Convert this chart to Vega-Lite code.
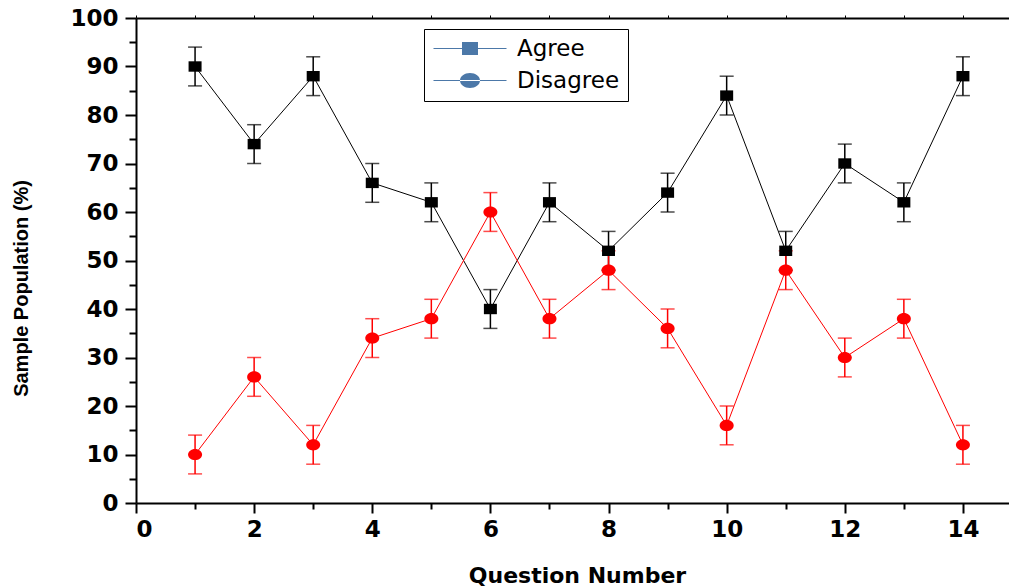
{
  "$schema": "https://vega.github.io/schema/vega-lite/v6.json",
  "autosize": {"type": "none"},
  "padding": {"left": 136, "top": 18, "right": 0, "bottom": 83},
  "width": 873,
  "height": 485,
  "background": "white",
  "config": {
    "view": {"stroke": null},
    "axis": {
      "grid": false,
      "domainColor": "black",
      "domainWidth": 2,
      "tickColor": "black",
      "tickWidth": 2,
      "labelFont": "DejaVu Sans",
      "labelFontWeight": "bold",
      "labelFontSize": 23,
      "labelColor": "black",
      "titleColor": "black"
    }
  },
  "data": {
    "values": [
      {"q": 1, "series": "Agree", "value": 90, "err": 4},
      {"q": 2, "series": "Agree", "value": 74, "err": 4},
      {"q": 3, "series": "Agree", "value": 88, "err": 4},
      {"q": 4, "series": "Agree", "value": 66, "err": 4},
      {"q": 5, "series": "Agree", "value": 62, "err": 4},
      {"q": 6, "series": "Agree", "value": 40, "err": 4},
      {"q": 7, "series": "Agree", "value": 62, "err": 4},
      {"q": 8, "series": "Agree", "value": 52, "err": 4},
      {"q": 9, "series": "Agree", "value": 64, "err": 4},
      {"q": 10, "series": "Agree", "value": 84, "err": 4},
      {"q": 11, "series": "Agree", "value": 52, "err": 4},
      {"q": 12, "series": "Agree", "value": 70, "err": 4},
      {"q": 13, "series": "Agree", "value": 62, "err": 4},
      {"q": 14, "series": "Agree", "value": 88, "err": 4},
      {"q": 1, "series": "Disagree", "value": 10, "err": 4},
      {"q": 2, "series": "Disagree", "value": 26, "err": 4},
      {"q": 3, "series": "Disagree", "value": 12, "err": 4},
      {"q": 4, "series": "Disagree", "value": 34, "err": 4},
      {"q": 5, "series": "Disagree", "value": 38, "err": 4},
      {"q": 6, "series": "Disagree", "value": 60, "err": 4},
      {"q": 7, "series": "Disagree", "value": 38, "err": 4},
      {"q": 8, "series": "Disagree", "value": 48, "err": 4},
      {"q": 9, "series": "Disagree", "value": 36, "err": 4},
      {"q": 10, "series": "Disagree", "value": 16, "err": 4},
      {"q": 11, "series": "Disagree", "value": 48, "err": 4},
      {"q": 12, "series": "Disagree", "value": 30, "err": 4},
      {"q": 13, "series": "Disagree", "value": 38, "err": 4},
      {"q": 14, "series": "Disagree", "value": 12, "err": 4}
    ]
  },
  "layer": [
    {
      "mark": {"type": "line", "strokeWidth": 1},
      "encoding": {
        "x": {
          "field": "q", "type": "quantitative",
          "scale": {"domain": [0, 14.78], "nice": false, "zero": false},
          "axis": {
            "orient": "bottom",
            "values": [0, 2, 4, 6, 8, 10, 12, 14],
            "tickSize": 10,
            "labelPadding": 5,
            "title": "Question Number",
            "titleFont": "DejaVu Sans",
            "titleFontWeight": "bold",
            "titleFontSize": 22,
            "titleX": 441,
            "titleY": 72,
            "titleAlign": "center",
            "titleBaseline": "middle"
          }
        },
        "y": {
          "field": "value", "type": "quantitative",
          "scale": {"domain": [0, 100], "nice": false},
          "axis": {
            "orient": "left",
            "values": [0, 10, 20, 30, 40, 50, 60, 70, 80, 90, 100],
            "tickSize": 11,
            "labelPadding": 7,
            "title": "Sample Population (%)",
            "titleFont": "Liberation Sans",
            "titleFontWeight": "bold",
            "titleFontSize": 20,
            "titleX": -115,
            "titleY": 270,
            "titleAlign": "center",
            "titleBaseline": "middle",
            "titleAngle": -90
          }
        },
        "color": {
          "field": "series", "type": "nominal",
          "scale": {"domain": ["Agree", "Disagree"], "range": ["black", "red"]},
          "legend": null
        },
        "detail": {"field": "series"}
      }
    },
    {
      "mark": {"type": "errorbar", "thickness": 1.5, "ticks": {"size": 14, "thickness": 1.5}},
      "encoding": {
        "x": {"field": "q", "type": "quantitative", "axis": null},
        "y": {"field": "value", "type": "quantitative", "axis": null},
        "yError": {"field": "err"},
        "color": {"field": "series", "type": "nominal", "legend": null}
      }
    },
    {
      "mark": {"type": "point", "filled": true, "opacity": 1, "strokeWidth": 0},
      "encoding": {
        "x": {
          "field": "q", "type": "quantitative",
          "axis": {"orient": "bottom", "values": [1, 3, 5, 7, 9, 11, 13], "tickSize": 6, "labels": false, "domain": false, "title": null}
        },
        "y": {
          "field": "value", "type": "quantitative",
          "axis": {"orient": "left", "values": [5, 15, 25, 35, 45, 55, 65, 75, 85, 95], "tickSize": 7, "labels": false, "domain": false, "title": null}
        },
        "color": {"field": "series", "type": "nominal", "legend": null},
        "shape": {
          "field": "series", "type": "nominal",
          "scale": {"domain": ["Agree", "Disagree"], "range": ["M-1,-0.8H1V0.8H-1Z", "M-1,0A1,0.8 0 1,0 1,0A1,0.8 0 1,0 -1,0Z"]},
          "legend": null
        },
        "size": {
          "field": "series", "type": "nominal",
          "scale": {"domain": ["Agree", "Disagree"], "range": [169, 196]},
          "legend": null
        }
      }
    },
    {
      "mark": {"type": "point", "filled": true, "opacity": 0, "size": 400},
      "encoding": {
        "x": {
          "field": "q", "type": "quantitative",
          "axis": {"orient": "top", "values": [0, 1, 2, 3, 4, 5, 6, 7, 8, 9, 10, 11, 12, 13, 14], "tickSize": 3, "tickWidth": 1, "labels": false, "title": null}
        },
        "y": {"field": "value", "type": "quantitative", "axis": null},
        "shape": {
          "field": "series", "type": "nominal",
          "scale": {"domain": ["Agree", "Disagree"], "range": ["M-1,-0.06H6.3V0.06H-1ZM1.85,-0.65H3.45V0.65H1.85Z", "M-1,-0.06H6.3V0.06H-1ZM1.65,0A1,0.75 0 1,0 3.65,0A1,0.75 0 1,0 1.65,0Z"]},
          "legend": {
            "orient": "none",
            "legendX": 288,
            "legendY": 11,
            "title": null,
            "strokeColor": "black",
            "fillColor": "white",
            "padding": 8,
            "symbolSize": 400,
            "symbolStrokeWidth": 0,
            "symbolOpacity": 1,
            "symbolFillColor": {"expr": "datum.value === 'Agree' ? 'black' : 'red'"},
            "labelFont": "DejaVu Sans",
            "labelFontSize": 23,
            "labelColor": "black",
            "labelOffset": 62,
            "rowPadding": 8
          }
        }
      }
    }
  ],
  "resolve": {
    "axis": {"x": "independent", "y": "independent"},
    "scale": {"shape": "independent", "size": "independent"}
  }
}
